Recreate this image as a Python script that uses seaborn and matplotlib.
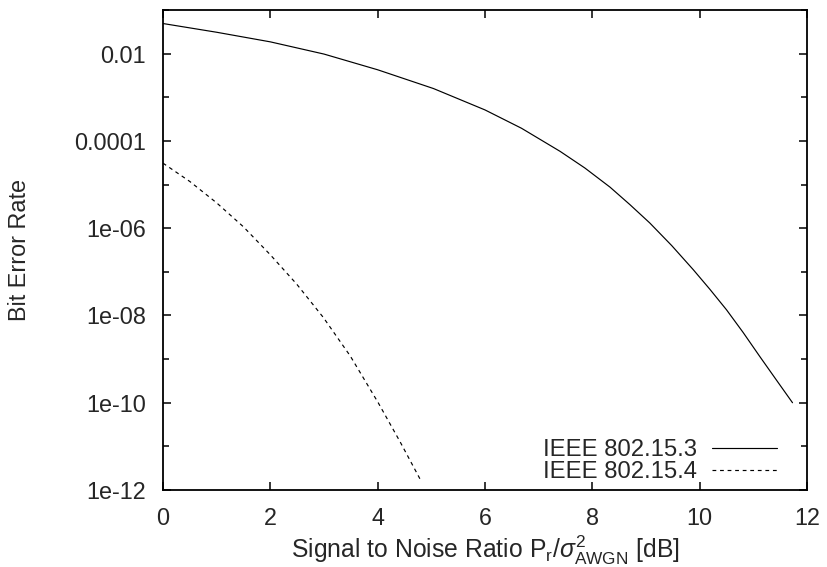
import matplotlib
matplotlib.use("Agg")
import matplotlib.pyplot as plt
import matplotlib.ticker as mticker
import numpy as np
import pandas as pd
import seaborn as sns

# ---- data (BER given as log10 values) ----
snr_153 = [0, 1.0, 2.0, 3.0, 4.0, 5.04, 6.0, 6.68, 7.4, 7.86, 8.33, 8.70, 9.07,
           9.48, 9.88, 10.19, 10.5, 10.81, 11.12, 11.43, 11.73]
log10_ber_153 = [-1.31, -1.51, -1.73, -2.01, -2.37, -2.80, -3.29, -3.71, -4.24,
                 -4.62, -5.06, -5.46, -5.88, -6.40, -6.95, -7.40, -7.87, -8.39,
                 -8.94, -9.48, -10.0]
snr_154 = [0, 0.5, 1.0, 1.5, 2.0, 2.49, 2.99, 3.49, 4.01, 4.42, 4.79]
log10_ber_154 = [-4.51, -4.93, -5.42, -5.97, -6.61, -7.28, -8.05, -8.93, -10.0,
                 -10.90, -11.75]
series_names = ["IEEE 802.15.3", "IEEE 802.15.4"]
xticks = [0, 2, 4, 6, 8, 10, 12]
yticks = [1e-12, 1e-10, 1e-8, 1e-6, 1e-4, 1e-2]
ytick_labels = ["1e-12", "1e-10", "1e-08", "1e-06", "0.0001", "0.01"]
yminor = [1e-11, 1e-9, 1e-7, 1e-5, 1e-3, 1e-1]

df = pd.concat([
    pd.DataFrame({"snr": snr_153, "ber": np.power(10.0, log10_ber_153),
                  "std": series_names[0]}),
    pd.DataFrame({"snr": snr_154, "ber": np.power(10.0, log10_ber_154),
                  "std": series_names[1]}),
])

sns.set_style("white")
plt.rcParams["font.family"] = ["Liberation Sans", "DejaVu Sans"]
plt.rcParams["mathtext.fontset"] = "custom"
plt.rcParams["mathtext.rm"] = "Liberation Sans"
plt.rcParams["mathtext.it"] = "Liberation Sans:italic"
plt.rcParams["mathtext.sf"] = "Liberation Sans"

FS = 16.8
fig = plt.figure(figsize=(8.28, 5.67), dpi=100)
ax = fig.add_axes([163/828, 1 - 490/567, (807-163)/828, (490-10)/567])

sns.lineplot(data=df, x="snr", y="ber", style="std", hue="std",
             palette={series_names[0]: "black", series_names[1]: "black"},
             dashes={series_names[0]: "", series_names[1]: (3.2, 3.2)},
             linewidth=0.85, ax=ax, sort=True, estimator=None)

ax.set_yscale("log")
ax.set_xlim(0, 12)
ax.set_ylim(1e-12, 1e-1)
ax.xaxis.set_major_locator(mticker.FixedLocator(xticks))
ax.xaxis.set_major_formatter(mticker.FixedFormatter([str(v) for v in xticks]))
ax.xaxis.set_minor_locator(mticker.NullLocator())
ax.yaxis.set_major_locator(mticker.FixedLocator(yticks))
ax.yaxis.set_major_formatter(mticker.FixedFormatter(ytick_labels))
ax.yaxis.set_minor_locator(mticker.FixedLocator(yminor))
ax.yaxis.set_minor_formatter(mticker.NullFormatter())

ax.tick_params(which="both", direction="in", top=True, right=True,
               bottom=True, left=True, color="black", labelsize=FS, pad=12.5)
ax.tick_params(which="major", length=6, width=1.1)
ax.tick_params(which="minor", length=4, width=1.1)
for s in ax.spines.values():
    s.set_visible(True)
    s.set_color("black")
    s.set_linewidth(1.3)

ax.set_ylabel("Bit Error Rate", fontsize=FS)
ax.yaxis.set_label_coords((31 - 163) / 644, 0.5)
ax.set_xlabel(r"Signal to Noise Ratio P$_\mathregular{r}$/$\sigma^\mathregular{2}_\mathregular{AWGN}$ [dB]",
              fontsize=17.8, labelpad=2.5)

leg = ax.legend(loc="lower right", frameon=False, markerfirst=False,
                fontsize=17.2, handlelength=2.75, handletextpad=0.62,
                labelspacing=0.0, borderaxespad=0.0,
                bbox_to_anchor=((787 - 163) / 644, (490 - 493) / 480))
for line in leg.get_lines():
    line.set_linewidth(0.85)

fig.savefig("out.png", dpi=100)
